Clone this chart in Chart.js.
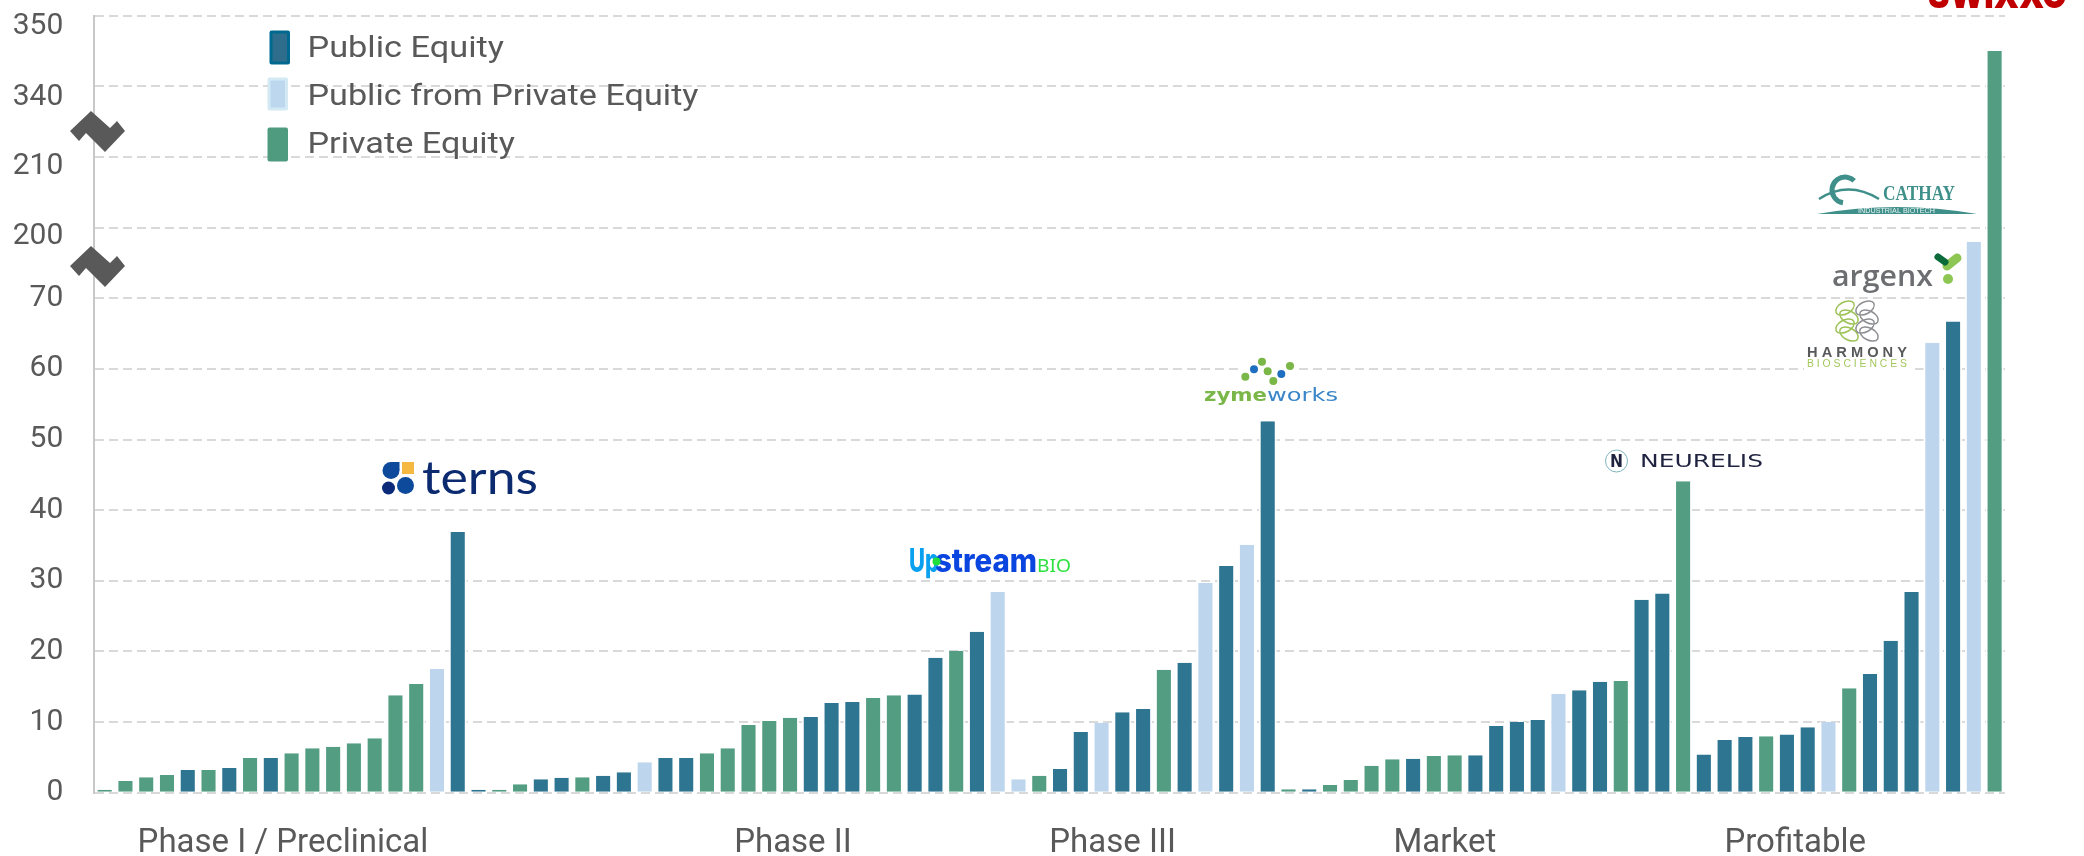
<!DOCTYPE html>
<html>
<head>
<meta charset="UTF-8">
<title>index.html</title>
<script src="https://cdn.jsdelivr.net/npm/chart.js"></script>
<style>
    html, body { margin: 0; padding: 0; background: #fff; }
    canvas { display: block; }
</style>
</head>
<body>
<canvas id="barChart" width="2084" height="856"></canvas>

<script>
    // broken axis: every tick sits at the same distance
    const yTickValues = [0, 10, 20, 30, 40, 50, 60, 70, 200, 210, 340, 350];

    const seriesNames = ['Public Equity', 'Public from Private Equity', 'Private Equity'];
    const stageNames = ['Phase I / Preclinical', 'Phase II', 'Phase III', 'Market', 'Profitable'];

    // P = public, F = public from private, V = private
    const phase1Values = [0.4, 1.65, 2.2, 2.5, 3.2, 3.2, 3.5, 4.9, 4.9, 5.6, 6.3, 6.5, 7.0, 7.7, 13.8, 15.4, 17.5, 36.9];
    const phase1Types = 'VVVVPVPVPVVVVVVVFP';
    const phase2Values = [0.4, 0.4, 1.2, 1.9, 2.1, 2.2, 2.4, 2.9, 4.3, 4.9, 4.9, 5.6, 6.3, 9.6, 10.15, 10.6, 10.7, 12.7, 12.85, 13.4, 13.8, 13.9, 19.1, 20.1, 22.8, 28.4];
    const phase2Types = 'PVVPPVPPFPPVVVVVPPPVVPPVPF';
    const phase3Values = [1.9, 2.4, 3.35, 8.6, 9.9, 11.4, 11.85, 17.4, 18.4, 29.7, 32.1, 35.1, 52.6];
    const phase3Types = 'FVPPFPPVPFPFP';
    const marketValues = [0.5, 0.5, 1.1, 1.8, 3.8, 4.75, 4.8, 5.2, 5.3, 5.3, 9.45, 10.0, 10.3, 14.0, 14.5, 15.7, 15.8, 27.3, 28.2, 44.1];
    const marketTypes = 'VPVVVVPVVPPPPFPPVPPV';
    const profitableValues = [5.4, 7.45, 7.9, 8.0, 8.25, 9.25, 10.0, 14.8, 16.8, 21.5, 28.4, 63.7, 66.7, 174, 345];
    const profitableTypes = 'PPPVPPFVPPPFPFV';

    const allValues = [].concat(phase1Values, phase2Values, phase3Values, marketValues, profitableValues);
    const allTypes = phase1Types + phase2Types + phase3Types + marketTypes + profitableTypes;

    // value -> place on the evenly spaced broken axis
    function toAxis(v) {
        for (let i = 1; i < yTickValues.length; i++) {
            if (v <= yTickValues[i]) {
                return i - 1 + (v - yTickValues[i - 1]) / (yTickValues[i] - yTickValues[i - 1]);
            }
        }
        return yTickValues.length - 1;
    }

    function seriesData(type) {
        return allValues.map(function (v, i) {
            return allTypes[i] === type ? toAxis(v) : null;
        });
    }

    const BLUE = '#2d7590';
    const LIGHT = '#bdd6ee';
    const GREEN = '#539d83';
    const GREY = '#595959';

    function barDataset(name, type, color) {
        return {
            label: name,
            data: seriesData(type),
            backgroundColor: color,
            borderColor: '#fff',
            borderWidth: { left: 2, right: 2, top: 0, bottom: 0 },
            borderSkipped: false,
            barPercentage: 0.87,
            categoryPercentage: 1
        };
    }

    // text squeezed or stretched to the width it has in the picture
    function fitText(ctx, text, x, baseline, width, font, color) {
        ctx.save();
        ctx.font = font;
        ctx.fillStyle = color;
        ctx.textAlign = 'left';
        ctx.textBaseline = 'alphabetic';
        const w = ctx.measureText(text).width;
        ctx.translate(x, baseline);
        ctx.scale(width / w, 1);
        ctx.fillText(text, 0, 0);
        ctx.restore();
    }

    function dot(ctx, x, y, r, color) {
        ctx.fillStyle = color;
        ctx.beginPath();
        ctx.arc(x, y, r, 0, Math.PI * 2);
        ctx.fill();
    }

    function breakMark(ctx, dy) {
        const pts = [[70, 131], [91, 111], [110, 128], [117, 121], [125, 131], [105, 152], [86, 133], [79, 141]];
        ctx.fillStyle = GREY;
        ctx.beginPath();
        pts.forEach(function (p, i) {
            if (i === 0) ctx.moveTo(p[0], p[1] + dy);
            else ctx.lineTo(p[0], p[1] + dy);
        });
        ctx.closePath();
        ctx.fill();
    }

    const legendPlugin = {
        id: 'sideLegend',
        afterDraw: function (chart) {
            const ctx = chart.ctx;
            const rows = [
                { x: 269.5, y: 30.5, h: 34, edge: '#00698f', fill: '#2e6e8c', baseline: 57, width: 196.5 },
                { x: 267.5, y: 77.5, h: 33, edge: '#d3e9f4', fill: '#bdd7ee', baseline: 105, width: 391 },
                { x: 267.5, y: 127.5, h: 34, edge: '#4e9b80', fill: '#4e9b80', baseline: 153, width: 207.5 }
            ];
            rows.forEach(function (r, i) {
                ctx.fillStyle = r.edge;
                ctx.beginPath();
                ctx.roundRect(r.x, r.y, 20.5, r.h, 2);
                ctx.fill();
                ctx.fillStyle = r.fill;
                ctx.fillRect(r.x + 3, r.y + 3, 14.5, r.h - 6);
                fitText(ctx, chart.data.datasets[i].label, 307.5, r.baseline, r.width, '30px Roboto', GREY);
            });
            breakMark(ctx, 0);
            breakMark(ctx, 135);
        }
    };

    const logoPlugin = {
        id: 'logos',
        afterDraw: function (chart) {
            const ctx = chart.ctx;

            // clipped logo on the top edge
            fitText(ctx, 'SWIXXO', 1928, 8, 139, '900 38px Inter', '#c00000');

            // terns
            ctx.fillStyle = '#f5b942';
            ctx.fillRect(402, 462, 12, 12);
            dot(ctx, 391, 470.5, 8.5, '#0d4a9c');
            dot(ctx, 405.5, 485.5, 8.5, '#0d4a9c');
            ctx.fillStyle = '#0d4a9c';
            ctx.fillRect(391, 462, 8.5, 8);
            dot(ctx, 388.5, 488, 6.5, '#0b2a7a');
            fitText(ctx, 'terns', 422, 494, 116, '46px Lato', '#0b2a6f');

            // upstream
            fitText(ctx, 'Up', 909, 572, 30, '800 32px Inter', '#0aa0f0');
            fitText(ctx, 'stream', 935, 572, 102, '800 32px Inter', '#0a45e0');
            dot(ctx, 936.5, 561.5, 4, '#1fe03a');
            fitText(ctx, 'BIO', 1037, 572, 34, '18px "Noto Sans"', '#2ee040');

            // zymeworks
            ctx.fillStyle = '#fff';
            ctx.fillRect(1241, 356, 54, 28);
            [[196, 110, 0], [222, 88, 1], [246, 65, 0], [263, 94, 0], [280, 123, 0], [304, 102, 1], [330, 78, 0]].forEach(function (d) {
                dot(ctx, 1180 + d[0] / 3, 340 + d[1] / 3, 4, d[2] ? '#1f6fc0' : '#7ab648');
            });
            fitText(ctx, 'zyme', 1204, 401, 63, 'bold 17px "DejaVu Sans"', '#7ab648');
            fitText(ctx, 'works', 1267, 401, 71, '17px "DejaVu Sans"', '#3a86c8');

            // neurelis
            ctx.strokeStyle = '#7fb5bd';
            ctx.lineWidth = 1;
            ctx.beginPath();
            ctx.arc(1616.5, 461, 11, 0, Math.PI * 2);
            ctx.stroke();
            fitText(ctx, 'N', 1610, 467, 13, 'bold 17px "DejaVu Sans"', '#1f2340');
            fitText(ctx, 'NEURELIS', 1640, 467, 123, '17px "DejaVu Sans"', '#1f2340');

            // cathay
            ctx.strokeStyle = '#3f8f8a';
            ctx.lineWidth = 5;
            ctx.beginPath();
            ctx.arc(1845, 190, 13, Math.PI * 0.55, Math.PI * 1.75);
            ctx.stroke();
            ctx.lineWidth = 2.5;
            ctx.beginPath();
            ctx.moveTo(1819, 199);
            ctx.quadraticCurveTo(1848, 180, 1879, 199);
            ctx.stroke();
            fitText(ctx, 'CATHAY', 1883, 200, 72, 'bold 20px "Liberation Serif"', '#3f8f8a');
            ctx.fillStyle = '#3f8f8a';
            ctx.beginPath();
            ctx.moveTo(1817, 214);
            ctx.quadraticCurveTo(1897, 200, 1977, 214);
            ctx.closePath();
            ctx.fill();
            fitText(ctx, 'INDUSTRIAL BIOTECH', 1858, 213, 77, '7px "Liberation Sans"', '#e8f3f2');

            // argenx
            fitText(ctx, 'argenx', 1832, 286, 101, '600 29px "Open Sans"', '#6d6e71');
            ctx.lineCap = 'round';
            ctx.strokeStyle = '#8dc653';
            ctx.lineWidth = 9;
            ctx.beginPath();
            ctx.moveTo(1947, 266);
            ctx.lineTo(1957, 258);
            ctx.stroke();
            ctx.strokeStyle = '#0b6b3a';
            ctx.lineWidth = 7;
            ctx.beginPath();
            ctx.moveTo(1938, 257);
            ctx.lineTo(1945, 262);
            ctx.stroke();
            ctx.lineCap = 'butt';
            dot(ctx, 1948, 279, 5, '#8dc653');

            // harmony
            ctx.fillStyle = '#fff';
            ctx.fillRect(1804, 300, 106, 70);
            ctx.lineWidth = 1.5;
            [[1847, '#9cc255'], [1867, '#8d8f92']].forEach(function (c) {
                ctx.strokeStyle = c[1];
                [-13, -4, 5, 13].forEach(function (dy, i) {
                    ctx.beginPath();
                    ctx.ellipse(c[0] + (i % 2 ? 2 : -2), 321 + dy, 10, 6, i % 2 ? 0.5 : -0.5, 0, Math.PI * 2);
                    ctx.stroke();
                });
            });
            fitText(ctx, 'H A R M O N Y', 1807, 357, 100, 'bold 15px "Liberation Sans"', '#58595b');
            fitText(ctx, 'B I O S C I E N C E S', 1807, 367, 100, '10px "Liberation Sans"', '#a3c75c');
        }
    };

    new Chart(document.getElementById('barChart'), {
        type: 'bar',
        data: {
            labels: allValues.map(function (v, i) { return String(i + 1); }),
            datasets: [
                barDataset(seriesNames[0], 'P', BLUE),
                barDataset(seriesNames[1], 'F', LIGHT),
                barDataset(seriesNames[2], 'V', GREEN)
            ]
        },
        options: {
            responsive: false,
            animation: false,
            devicePixelRatio: 1,
            layout: { padding: { top: 15.7, right: 79, bottom: 0, left: 0 } },
            plugins: { legend: { display: false }, tooltip: { enabled: false } },
            scales: {
                x: {
                    stacked: true,
                    grid: { display: false },
                    border: { display: false },
                    ticks: { display: false },
                    afterFit: function (scale) { scale.height = 0; }
                },
                // stage names do not sit under a bar, so they get their own axis in bar units
                xStage: {
                    type: 'linear',
                    position: 'bottom',
                    offset: false,
                    min: 0,
                    max: allValues.length,
                    grid: { display: false },
                    border: { display: false },
                    afterBuildTicks: function (scale) {
                        scale.ticks = [9.08, 33.64, 49.03, 65.03, 81.9].map(function (v) { return { value: v }; });
                    },
                    ticks: {
                        autoSkip: false,
                        maxRotation: 0,
                        padding: 23,
                        color: GREY,
                        font: { family: 'Roboto', size: 33 },
                        callback: function (value, index) { return stageNames[index]; }
                    },
                    afterFit: function (scale) { scale.height = 63.3; }
                },
                y: {
                    stacked: true,
                    min: 0,
                    max: yTickValues.length - 1,
                    grid: { color: '#d9d9d9', lineWidth: 2, drawTicks: false },
                    border: { color: '#c8c8c8', width: 2, dash: [9, 5] },
                    ticks: { display: false, stepSize: 1 },
                    afterFit: function (scale) { scale.width = 0; }
                },
                // labels of the upper ticks sit a little under their grid lines
                yLabels: {
                    type: 'linear',
                    position: 'left',
                    weight: 1,
                    offset: false,
                    min: 0,
                    max: yTickValues.length - 1,
                    grid: { display: false, tickLength: 31 },
                    border: { display: false },
                    afterBuildTicks: function (scale) {
                        scale.ticks = [0, 1, 2, 3, 4, 5, 6, 7, 7.88, 8.87, 9.84, 10.85].map(function (v) { return { value: v }; });
                    },
                    ticks: {
                        autoSkip: false,
                        padding: 0,
                        color: GREY,
                        font: { family: 'Roboto', size: 30, lineHeight: 1 },
                        callback: function (value, index) { return String(yTickValues[index]); }
                    },
                    afterFit: function (scale) { scale.width = 94.3; }
                }
            }
        },
        plugins: [legendPlugin, logoPlugin]
    });
</script>
</body>
</html>
